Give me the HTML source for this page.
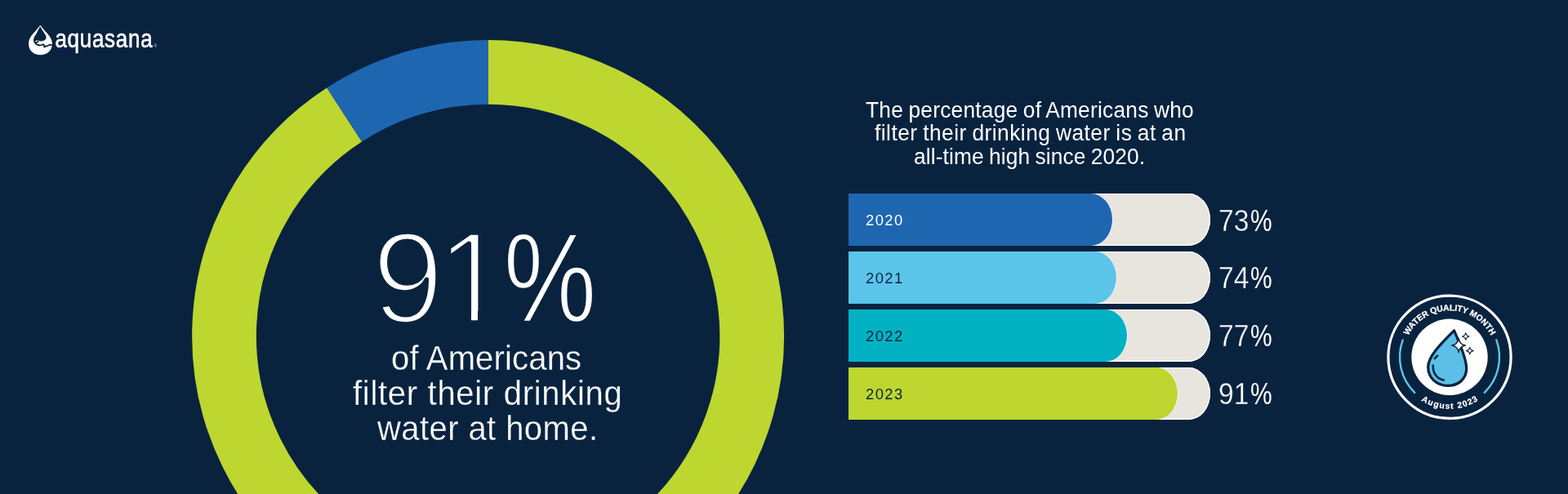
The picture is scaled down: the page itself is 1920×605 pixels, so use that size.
<!DOCTYPE html>
<html lang="en">
<head>
<meta charset="utf-8">
<title>Aquasana – 91% of Americans filter their drinking water at home</title>
<style>
html,body{margin:0;padding:0;background:#09233f;}
body{width:1920px;height:605px;overflow:hidden;position:relative;font-family:"Liberation Sans",Arial,sans-serif;color:#fff;}
.abs{position:absolute;}
svg{position:absolute;left:0;top:0;display:block;}
.line{position:absolute;white-space:nowrap;line-height:1;margin:0;font-weight:400;}
.sub{font-size:42px;transform-origin:0 50%;transform:scaleX(0.9524);-webkit-text-stroke:0.3px #09233f;}
.head{font-size:27.7px;word-spacing:-1.26px;transform-origin:0 50%;transform:scaleX(0.9495);}
/* bar chart */
.bars{position:absolute;left:1039px;top:237.2px;width:443px;list-style:none;margin:0;padding:0;}
.bar{position:absolute;left:0;width:442.6px;height:64px;background:#e8e4de;border-radius:0 26.5px 26.5px 0 / 0 32px 32px 0;box-shadow:inset 0 0 0 1.3px #fff;}
.fill{position:absolute;left:0;top:0;height:64px;border-radius:0 26.5px 26.5px 0 / 0 32px 32px 0;box-shadow:0.8px 0 0 0 rgba(255,255,255,.85);}
.yr{position:absolute;left:21px;top:23.7px;font-size:18.4px;line-height:18.4px;letter-spacing:1.45px;}
.pct{position:absolute;left:453px;top:15.4px;font-size:36.2px;line-height:36.2px;white-space:nowrap;transform-origin:0 50%;transform:scaleX(0.93);-webkit-text-stroke:0.35px #09233f;}
.pct .pc{-webkit-text-stroke:0;display:inline-block;transform-origin:0 50%;transform:scaleX(0.89);margin-left:1.3px;}
</style>
</head>
<body>

<!-- donut chart -->
<svg id="chart" width="1920" height="605" viewBox="0 0 1920 605" role="img" aria-label="Donut chart: 91% filter, 9% do not">
  <!-- donut -->
  <g id="donut" fill="none" stroke-width="78.7">
    <path d="M 597.6 88.30 A 323.1 323.1 0 1 1 421.63 140.43" stroke="#bdd630"/>
    <path d="M 597.6 88.30 A 323.1 323.1 0 0 0 421.63 140.43" stroke="#1f66b1"/>
  </g>
</svg>

<header class="abs" style="left:0;top:0;">
  <svg class="logo" width="230" height="90" viewBox="0 0 230 90" role="img" aria-label="aquasana">
    <g transform="translate(28 24) scale(0.07934)">
      <path fill="#fff" d="M259 98 Q269 78 279 98 C312 150 392 222 424 276 C444 308 453 342 453 375 C453 478 372 546 270 546 C168 546 89 478 89 375 C89 342 96 308 114 276 C146 222 226 150 259 98 Z"/>
      <path fill="#09233f" d="M266 104 C290 150 330 205 352 244 C366 268 364 290 346 308 C322 332 280 338 250 328 C236 322 222 320 208 326 C186 336 166 328 166 302 C168 282 180 262 192 244 C214 208 246 150 266 104 Z"/>
      <path fill="none" stroke="#09233f" stroke-width="23" stroke-linecap="round" stroke-linejoin="round" d="M172 314 C178 350 196 378 226 390 C254 402 286 396 312 384 C326 380 328 404 332 424 C348 402 362 416 384 404 C404 392 426 382 452 396 M206 350 C214 352 226 348 236 338"/>
    </g>
    <text x="0" y="0" transform="translate(67.4 58.1) scale(0.85 1)" font-family="'Liberation Sans',Arial,sans-serif" font-size="30.6" letter-spacing="0.85" fill="#fff" stroke="#fff" stroke-width="0.6" stroke-linejoin="round">aquasana</text>
    <text x="188.6" y="58.3" font-family="'Liberation Sans',Arial,sans-serif" font-size="5" fill="#c9d2de">®</text>
  </svg>
</header>

<section id="headline">
  <svg class="big" style="left:440px;top:270px" width="320" height="140" viewBox="440 270 320 140" role="img" aria-label="91%">
    <defs><clipPath id="nofoot"><path clip-rule="evenodd" d="M0 0H1920V605H0Z M540 381H577V398H540Z M585 381H618V398H585Z"/></clipPath></defs>
    <text clip-path="url(#nofoot)" x="455.3" y="394.95" font-family="'Liberation Sans',Arial,sans-serif" font-size="158.9" fill="#fff" stroke="#09233f" stroke-width="5.7" stroke-linejoin="round">9<tspan dx="-9.4">1</tspan><tspan dx="-6" dy="-0.6" font-size="155.2" stroke-width="2.6" textLength="114" lengthAdjust="spacingAndGlyphs">%</tspan></text>
  </svg>
  <p class="line sub" id="s1" style="left:478.9px;top:418px;letter-spacing:0.18px;">of Americans</p>
  <p class="line sub" id="s2" style="left:431.8px;top:461px;letter-spacing:0.735px;">filter their drinking</p>
  <p class="line sub" id="s3" style="left:461.8px;top:504px;letter-spacing:0.44px;">water at home.</p>
</section>

<section id="trend">
  <p class="line head" id="h1" style="left:1059.8px;top:121px;letter-spacing:0.263px;">The percentage of Americans who</p>
  <p class="line head" id="h2" style="left:1071px;top:149px;letter-spacing:0.516px;">filter their drinking water is at an</p>
  <p class="line head" id="h3" style="left:1119.3px;top:178px;letter-spacing:0.137px;">all-time high since 2020.</p>

  <ul class="bars">
    <li class="bar" style="top:0"><div class="fill" style="width:323px;background:#1f66b1"></div><span class="yr" style="color:#fff">2020</span><span class="pct">73<span class="pc">%</span></span></li>
    <li class="bar" style="top:70.9px"><div class="fill" style="width:327.5px;background:#5bc5ea"></div><span class="yr" style="color:#09233f">2021</span><span class="pct">74<span class="pc">%</span></span></li>
    <li class="bar" style="top:141.8px"><div class="fill" style="width:340.5px;background:#02b2c2"></div><span class="yr" style="color:#09233f">2022</span><span class="pct">77<span class="pc">%</span></span></li>
    <li class="bar" style="top:212.7px"><div class="fill" style="width:402.5px;background:#bdd630"></div><span class="yr" style="color:#09233f">2023</span><span class="pct">91<span class="pc">%</span></span></li>
  </ul>
</section>

<aside id="badge">
  <svg style="left:1690px;top:352px" width="170" height="170" viewBox="1690 352 170 170" role="img" aria-label="Water Quality Month, August 2023">
    <defs>
      <path id="arcTop" d="M1718.00 437.30 A57.0 57.0 0 0 1 1832.00 437.30"/>
      <path id="arcBot" d="M1711.50 437.30 A63.5 63.5 0 0 0 1838.50 437.30"/>
    </defs>
    <circle cx="1775.0" cy="437.3" r="75.1" fill="#09233f" stroke="#fff" stroke-width="3.2"/>
    <path d="M1717.68 416.44 A61.0 61.0 0 0 0 1732.24 480.81" fill="none" stroke="#5bc5ea" stroke-width="2.4" stroke-linecap="round"/>
    <path d="M1832.32 416.44 A61.0 61.0 0 0 1 1817.76 480.81" fill="none" stroke="#5bc5ea" stroke-width="2.4" stroke-linecap="round"/>
    <circle cx="1775.0" cy="437.3" r="46.7" fill="#fff"/>
    <g id="drop" transform="translate(1735 390) scale(0.15717)">
      <path d="M290 94 C316 160 386 300 386 392 C386 468 326 524 242 524 C154 524 87 462 87 378 C87 292 204 180 290 94 Z" fill="#5bbfe7" stroke="#09233f" stroke-width="20.5" stroke-linejoin="round"/>
      <path d="M138 312 L160 290 M126 366 C122 428 160 474 210 480" fill="none" stroke="#09233f" stroke-width="16" stroke-linecap="round"/>
      <path d="M325 155 C330 190 345 205 378 210 C345 215 330 230 325 265 C320 230 305 215 272 210 C305 205 320 190 325 155 Z" fill="#fff" stroke="#09233f" stroke-width="9" stroke-linejoin="round"/>
      <path d="M380 112 C383 130 390 137 408 140 C390 143 383 150 380 168 C377 150 370 143 352 140 C370 137 377 130 380 112 Z" fill="#fff" stroke="#09233f" stroke-width="7" stroke-linejoin="round"/>
      <path d="M412 224 C415 242 422 249 440 252 C422 255 415 262 412 280 C409 262 402 255 384 252 C402 249 409 242 412 224 Z" fill="#fff" stroke="#09233f" stroke-width="7" stroke-linejoin="round"/>
    </g>
    <text font-family="'Liberation Sans',Arial,sans-serif" font-size="10.4" font-weight="700" fill="#fff" stroke="#fff" stroke-width="0.25" text-anchor="middle"><textPath href="#arcTop" startOffset="50%" textLength="124.5" lengthAdjust="spacing">WATER QUALITY MONTH</textPath></text>
    <text font-family="'Liberation Sans',Arial,sans-serif" font-size="10.3" font-weight="700" fill="#fff" stroke="#fff" stroke-width="0.2" text-anchor="middle"><textPath href="#arcBot" startOffset="50%" textLength="74" lengthAdjust="spacing">August 2023</textPath></text>
  </svg>
</aside>

</body>
</html>
